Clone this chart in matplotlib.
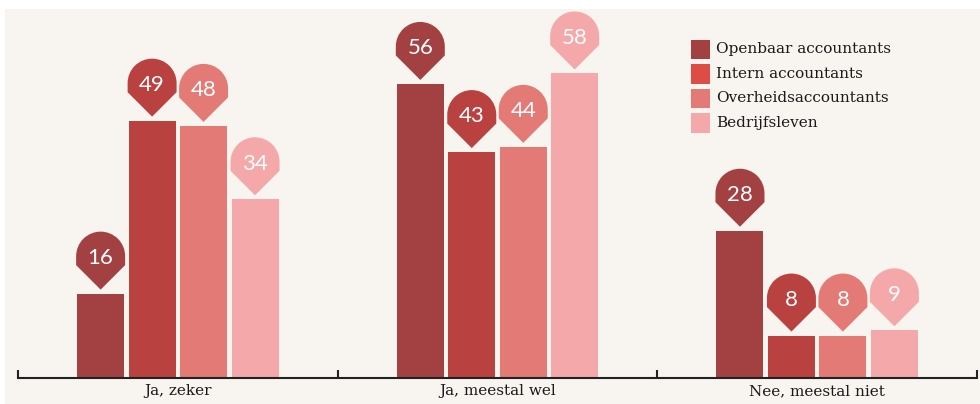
import matplotlib
matplotlib.use("Agg")
import matplotlib.pyplot as plt
import numpy as np
from matplotlib.path import Path
from matplotlib.patches import PathPatch, Rectangle
from matplotlib.transforms import Affine2D, ScaledTranslation

# --- data -------------------------------------------------------------
categories = ["Ja, zeker", "Ja, meestal wel", "Nee, meestal niet"]
series_names = ["Openbaar accountants", "Intern accountants",
                "Overheidsaccountants", "Bedrijfsleven"]
openbaar = [16, 56, 28]
intern = [49, 43, 8]
overheid = [48, 44, 8]
bedrijf = [34, 58, 9]
series_values = [openbaar, intern, overheid, bedrijf]

bar_colors = ["#a34142", "#b94140", "#e37a75", "#f5a8a9"]
legend_colors = ["#a34142", "#dd4d46", "#e37a75", "#f5a8a9"]
bg = "#f8f4ef"

W, H = 980, 404
fig = plt.figure(figsize=(W / 100, H / 100), dpi=100, facecolor="white")

# cream panel behind the chart
fig.patches.append(Rectangle((5 / W, 0), 1 - 5 / W, (H - 9) / H,
                             transform=fig.transFigure, facecolor=bg,
                             edgecolor="none", zorder=-10))

ax_left, ax_right = 18, 977
ax_top, ax_bottom = 9, 377.5
ax = fig.add_axes([ax_left / W, (H - ax_bottom) / H,
                   (ax_right - ax_left) / W, (ax_bottom - ax_top) / H])
ax.set_facecolor("none")
ax.set_zorder(1)
ax.set_xlim(-0.5, 2.5)
ax.set_ylim(0, 70.3)

n = len(series_values)
step = 0.161
width = 0.147
x = np.arange(len(categories))

# value pin: round head with a pointed bottom, drawn in pixels above each bar
r, h1, gap = 24.5, 9.0, 4.0
cy = gap + r + h1
arc = Path.arc(0, 180)
arc_verts = arc.vertices * r + np.array([0, cy])
verts = [(0, gap), (r, gap + r)] + [tuple(v) for v in arc_verts] + \
        [(-r, gap + r), (0, gap)]
codes = [Path.MOVETO, Path.LINETO] + [Path.LINETO] + list(arc.codes[1:]) + \
        [Path.LINETO, Path.CLOSEPOLY]
pin_path = Path(verts, codes)

for j, (vals, col) in enumerate(zip(series_values, bar_colors)):
    xs = x + (j - (n - 1) / 2) * step
    ax.bar(xs, vals, width=width, color=col, zorder=2)
    for xi, v in zip(xs, vals):
        tr = Affine2D() + ScaledTranslation(xi, v, ax.transData)
        ax.add_patch(PathPatch(pin_path, transform=tr, facecolor=col,
                               edgecolor="none", zorder=3, clip_on=False))
        ax.text(0, cy - 7.8, str(v), transform=tr, ha="center",
                va="baseline", color="white", fontsize=16,
                family="Lato", zorder=4)

# axis: only a bottom line with separators between the groups
for s in ["left", "right", "top"]:
    ax.spines[s].set_visible(False)
ax.spines["bottom"].set_linewidth(1.5)
ax.spines["bottom"].set_color("#222222")
ax.set_yticks([])
ax.set_xticks([-0.5, 0.5, 1.5, 2.5])
ax.set_xticklabels([])
ax.tick_params(axis="x", which="major", direction="in", length=5.5,
               width=1.5, color="#222222")
ax.set_xticks(x, minor=True)
ax.set_xticklabels(categories, minor=True, family="DejaVu Serif",
                   fontsize=11, color="#1a1a1a")
ax.tick_params(axis="x", which="minor", length=0, pad=5)

# legend with square swatches
lx, ly0, sw, row = 691, 40, 19, 24.5
for i, (name, col) in enumerate(zip(series_names, legend_colors)):
    top = ly0 + i * row
    fig.patches.append(Rectangle((lx / W, (H - top - sw) / H), sw / W, sw / H,
                                 transform=fig.transFigure, facecolor=col,
                                 edgecolor="none", zorder=5))
    fig.text((lx + sw + 6) / W, (H - top - sw / 2) / H, name,
             family="DejaVu Serif", fontsize=11, color="#1a1a1a",
             va="center", ha="left", zorder=5)

fig.savefig("out.png", dpi=100, facecolor=fig.get_facecolor())
